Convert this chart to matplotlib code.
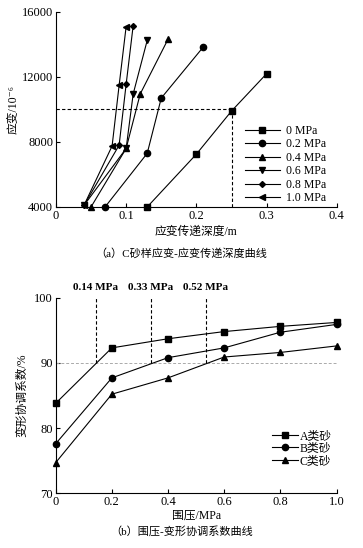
import matplotlib
matplotlib.use('Agg')
import matplotlib.pyplot as plt

plt.rcParams['font.family'] = ['Liberation Serif', 'Noto Sans CJK SC', 'DejaVu Serif']

# (a) strain vs transfer depth, C sand
pressures = ['0 MPa', '0.2 MPa', '0.4 MPa', '0.6 MPa', '0.8 MPa', '1.0 MPa']
depth = [
    [0.13, 0.20, 0.25, 0.30],
    [0.07, 0.13, 0.15, 0.21],
    [0.05, 0.10, 0.12, 0.16],
    [0.04, 0.10, 0.11, 0.13],
    [0.04, 0.09, 0.10, 0.11],
    [0.04, 0.08, 0.09, 0.10],
]
strain = [
    [4000, 7250, 9900, 12200],
    [4000, 7300, 10700, 13850],
    [4000, 7600, 10950, 14350],
    [4100, 7600, 10950, 14250],
    [4100, 7800, 11550, 15150],
    [4100, 7750, 11480, 15100],
]
markers_a = ['s', 'o', '^', 'v', 'D', '<']
msize_a = [4, 4.5, 4.5, 4.5, 3, 4.5]
ref_depth = 0.25
ref_strain = 10000

# (b) confining pressure vs coordination coefficient
sands = ['A类砂', 'B类砂', 'C类砂']
conf = [0, 0.2, 0.4, 0.6, 0.8, 1.0]
coef = [
    [83.8, 92.3, 93.7, 94.8, 95.6, 96.2],
    [77.6, 87.7, 90.8, 92.3, 94.7, 95.9],
    [74.7, 85.2, 87.7, 90.9, 91.6, 92.6],
]
markers_b = ['s', 'o', '^']
cross_x = [0.142, 0.338, 0.534]
cross_labels = ['0.14 MPa', '0.33 MPa', '0.52 MPa']

fig = plt.figure(figsize=(3.63, 5.48), dpi=100)

def style(ax):
    ax.spines['top'].set_visible(False)
    ax.spines['right'].set_visible(False)
    for s in ['left', 'bottom']:
        ax.spines[s].set_linewidth(0.8)
    ax.tick_params(direction='in', length=3, width=0.8, labelsize=9, pad=2)

# ---- top
ax = fig.add_axes([0.154, 0.6223, 0.774, 0.356])
for d, s, m, ms, lab in zip(depth, strain, markers_a, msize_a, pressures):
    ax.plot(d, s, color='black', lw=0.8, marker=m, ms=ms, label=lab, clip_on=False)
ax.plot([0, ref_depth], [ref_strain, ref_strain], color='black', lw=0.8, ls=(0, (3, 2)))
ax.plot([ref_depth, ref_depth], [4000, ref_strain], color='black', lw=0.8, ls=(0, (3, 2)))
ax.set_xlim(0, 0.4)
ax.set_ylim(4000, 16000)
ax.set_xticks([0, 0.1, 0.2, 0.3, 0.4])
ax.set_xticklabels(['0', '0.1', '0.2', '0.3', '0.4'])
ax.set_yticks([4000, 8000, 12000, 16000])
style(ax)
ax.set_xlabel('应变传递深度/m', fontsize=8.5, labelpad=3)
ax.set_ylabel('应变/10⁻⁶', fontsize=8.5, labelpad=2)
ax.legend(loc='lower right', bbox_to_anchor=(1.0, -0.04), frameon=False, fontsize=8.5,
          handlelength=3.0, handletextpad=0.5, labelspacing=0.12)
fig.text(0.5, 1 - 253 / 548, '（a）C砂样应变-应变传递深度曲线', ha='center', va='center', fontsize=8)

# ---- bottom
ax2 = fig.add_axes([0.1534, 0.0998, 0.7736, 0.357])
ax2.axhline(90, color='#aaaaaa', lw=0.7, ls=(0, (3, 2)))
for c, m, lab in zip(coef, markers_b, sands):
    ax2.plot(conf, c, color='black', lw=0.8, marker=m, ms=4.5, label=lab, clip_on=False)
for x, lab in zip(cross_x, cross_labels):
    ax2.plot([x, x], [90, 100], color='black', lw=0.8, ls=(0, (3, 2)), clip_on=False)
    ax2.text(x, 100.8, lab, ha='center', va='bottom', fontsize=8, fontweight='bold')
ax2.set_xlim(0, 1.0)
ax2.set_ylim(70, 100)
ax2.set_xticks(conf)
ax2.set_xticklabels(['0', '0.2', '0.4', '0.6', '0.8', '1.0'])
ax2.set_yticks([70, 80, 90, 100])
style(ax2)
ax2.set_xlabel('围压/MPa', fontsize=8.5, labelpad=1)
ax2.set_ylabel('变形协调系数/%', fontsize=8.5, labelpad=4)
ax2.legend(loc='lower right', bbox_to_anchor=(1.02, 0.08), frameon=False, fontsize=8.5,
           handlelength=2.2, handletextpad=0.15, labelspacing=0.05)
fig.text(0.5, 1 - 531 / 548, '（b）围压-变形协调系数曲线', ha='center', va='center', fontsize=8)

fig.savefig('out.png', dpi=100)
